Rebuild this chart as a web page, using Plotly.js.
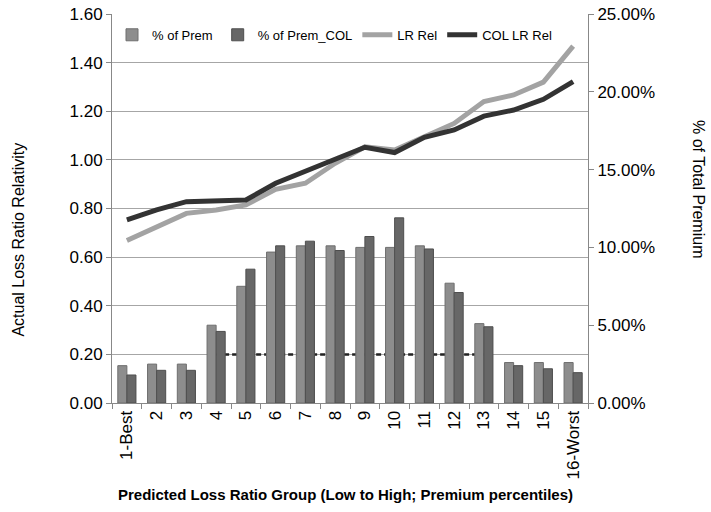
<!DOCTYPE html>
<html>
<head>
<meta charset="utf-8">
<script src="https://cdn.plot.ly/plotly-3.0.1.min.js"></script>
<style>html,body{margin:0;padding:0;background:#fff;}#chart{width:711px;height:512px;}</style>
</head>
<body>
<div id="chart"></div>
<script>
const categories = ["1-Best","2","3","4","5","6","7","8","9","10","11","12","13","14","15","16-Worst"];
const pctPrem    = [0.024,0.025,0.025,0.050,0.075,0.097,0.101,0.101,0.100,0.100,0.101,0.077,0.051,0.026,0.026,0.026];
const pctPremCOL = [0.018,0.021,0.021,0.046,0.086,0.101,0.104,0.098,0.107,0.119,0.099,0.071,0.049,0.024,0.022,0.0195];
const lrRel      = [0.668,0.725,0.780,0.794,0.815,0.879,0.904,0.986,1.054,1.041,1.098,1.150,1.240,1.267,1.320,1.468];
const colLrRel   = [0.753,0.794,0.828,0.831,0.835,0.904,0.952,1.000,1.052,1.030,1.093,1.123,1.180,1.205,1.249,1.322];
const refLineX   = ["4","13"];
const refLineY   = [0.2,0.2];

const font = "Liberation Sans, Arial, sans-serif";

const traces = [
  {type:"bar", name:"% of Prem", x:categories, y:pctPrem, yaxis:"y2",
   marker:{color:"#8d8d8d", line:{color:"#6e6e6e", width:1}}},
  {type:"bar", name:"% of Prem_COL", x:categories, y:pctPremCOL, yaxis:"y2",
   marker:{color:"#676767", line:{color:"#4e4e4e", width:1}}},
  {type:"scatter", mode:"lines", name:"LR Rel", x:categories, y:lrRel, yaxis:"y",
   line:{color:"#a3a3a3", width:5}},
  {type:"scatter", mode:"lines", name:"COL LR Rel", x:categories, y:colLrRel, yaxis:"y",
   line:{color:"#333333", width:5}},
  {type:"scatter", mode:"lines", name:"ref", x:refLineX, y:refLineY, yaxis:"y",
   showlegend:false, hoverinfo:"skip",
   line:{color:"#222222", width:2.5, dash:"5px,3px"}}
];

const layout = {
  width:711, height:512,
  margin:{l:112, r:123, t:14, b:109},
  paper_bgcolor:"#fff", plot_bgcolor:"#fff",
  font:{family:font, size:17, color:"#000"},
  barmode:"group", bargap:0.39, bargroupgap:0,
  showlegend:true,
  legend:{orientation:"h", x:0.0, y:0.985, xanchor:"left", yanchor:"top",
          font:{family:font, size:13, color:"#000"}, bgcolor:"rgba(0,0,0,0)",
          itemwidth:30, traceorder:"normal"},
  xaxis:{type:"category", categoryorder:"array", categoryarray:categories,
         tickangle:-90, ticks:"outside", ticklen:5, tickcolor:"#888",
         tickson:"boundaries", showline:true, linecolor:"#888", linewidth:1,
         showgrid:false, tickfont:{family:font, size:17, color:"#000"}},
  yaxis:{range:[0,1.6], dtick:0.2, tickformat:".2f", ticks:"outside", ticklen:5,
         tickcolor:"#888", showline:true, linecolor:"#888", linewidth:1,
         showgrid:true, gridcolor:"#a6a6a6", gridwidth:1, zeroline:false,
         tickfont:{family:font, size:17, color:"#000"}},
  yaxis2:{range:[0,0.25], dtick:0.05, tickformat:".2%", overlaying:"y", side:"right",
          ticks:"outside", ticklen:5, tickcolor:"#888", showline:true, linecolor:"#888",
          linewidth:1, showgrid:false, zeroline:false,
          tickfont:{family:font, size:17, color:"#000"}},
  annotations:[
    {text:"Actual Loss Ratio Relativity", xref:"paper", yref:"paper", x:0, y:0.42,
     xshift:-93, textangle:-90, showarrow:false, xanchor:"center", yanchor:"middle",
     font:{family:font, size:16, color:"#000"}},
    {text:"% of Total Premium", xref:"paper", yref:"paper", x:1, y:0.55,
     xshift:111, textangle:90, showarrow:false, xanchor:"center", yanchor:"middle",
     font:{family:font, size:16, color:"#000"}},
    {text:"<b>Predicted Loss Ratio Group (Low to High; Premium percentiles)</b>",
     xref:"paper", yref:"paper", x:0.49, y:-0.2365, showarrow:false,
     xanchor:"center", yanchor:"middle", font:{family:font, size:15, color:"#000"}}
  ]
};

Plotly.newPlot("chart", traces, layout, {displayModeBar:false, staticPlot:true});
</script>
</body>
</html>
